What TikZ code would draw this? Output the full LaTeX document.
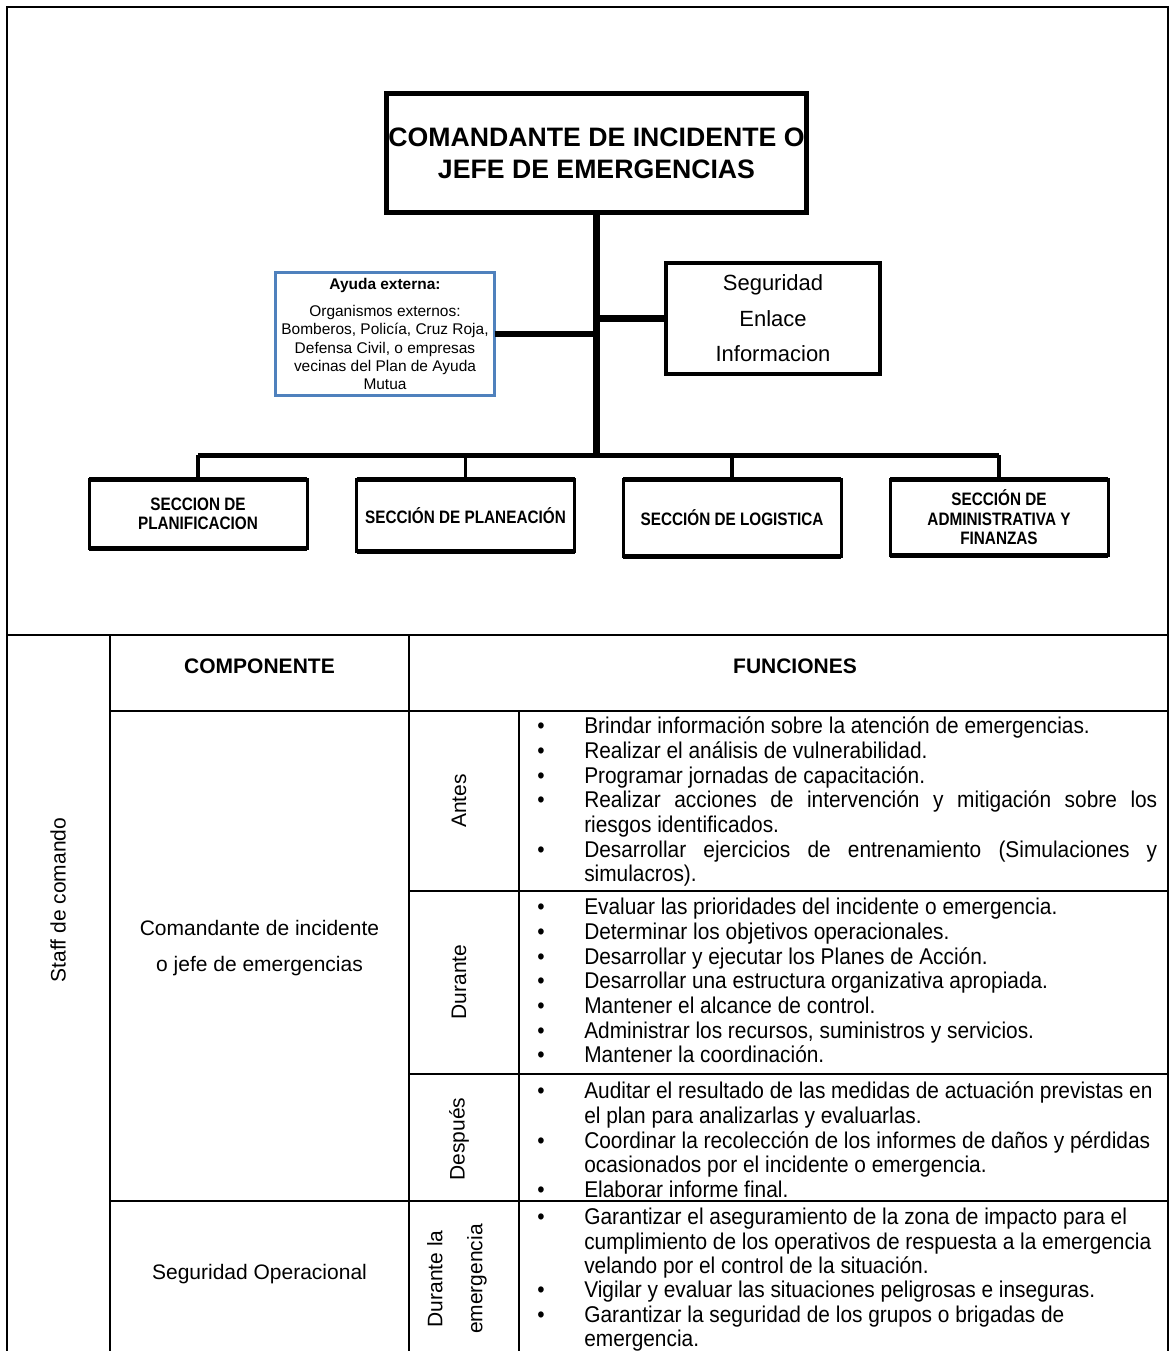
\documentclass[tikz,border=0pt]{standalone}
\usepackage{fontspec}
\setmainfont{Liberation Sans}
\newfontfamily\narrowfont[FakeStretch=0.85]{Liberation Sans}
\newfontfamily\funcfont[FakeStretch=0.915]{Liberation Sans}
\usetikzlibrary{positioning}
\definecolor{ayudablue}{HTML}{4F81BD}
\newenvironment{funclist}{%
  \spaceskip=0pt\xspaceskip=0pt
  \begin{list}{\textbullet}{%
    \setlength\leftmargin{35.25pt}\setlength\labelwidth{35.25pt}%
    \setlength\labelsep{0pt}\setlength\itemsep{0pt}\setlength\parsep{0pt}%
    \setlength\topsep{0pt}\setlength\partopsep{0pt}%
    \renewcommand\makelabel[1]{\strut##1\hfil}}}%
  {\end{list}}
\newcommand\just[1]{\makebox[429.75pt][s]{#1}}
\tikzset{
  orgbox/.style={draw, line width=3.75pt, inner sep=0pt, outer sep=0pt, align=center, font=\bfseries\fontsize{20}{24}\selectfont},
  sidebox/.style={draw, line width=3pt, inner sep=0pt, outer sep=0pt, align=center, font=\fontsize{16.5}{26.6}\selectfont},
  helpbox/.style={draw=ayudablue, line width=2.25pt, inner sep=0pt, outer sep=0pt, align=center, font=\fontsize{11.6}{13.7}\selectfont},
  secbox/.style={draw, line width=2.25pt, minimum width=163.5pt, inner sep=0pt, outer sep=0pt, align=center, font=\narrowfont\bfseries\fontsize{13.5}{14.6}\selectfont},
  trunk/.style={line width=5pt},
  bus/.style={line width=3.75pt},
  drop/.style={line width=2.6pt},
  frame/.style={line width=1.5pt},
  tabline/.style={line width=1.7pt},
  celltext/.style={inner sep=0pt, align=center, font=\fontsize{15.75}{27}\selectfont},
  functext/.style={anchor=north west, text width=485.25pt, inner sep=0pt, align=left, font=\funcfont\fontsize{17.1}{18.5}\selectfont}
}
\begin{document}
\begin{tikzpicture}[x=0.75pt, y=-0.75pt]
  \path[use as bounding box] (0,0) rectangle (1171,1351);

  \node[orgbox, minimum width=315pt, minimum height=89.25pt] (mando) at (596.5,153) {COMANDANTE DE INCIDENTE O\\JEFE DE EMERGENCIAS};
  \node[helpbox, minimum width=164.25pt, minimum height=92.25pt] (ayuda) at (385,334) {\textbf{Ayuda externa:}\\[6.75pt]Organismos externos:\\Bomberos, Policía, Cruz Roja,\\Defensa Civil, o empresas\\vecinas del Plan de Ayuda\\Mutua};
  \node[sidebox, minimum width=160.5pt, minimum height=83.25pt] (seg) at (773,318.5) {Seguridad\\Enlace\\Informacion};

  \node[secbox, minimum height=51.4pt] (secplan) at (198,514) {SECCION DE\\PLANIFICACION};
  \node[secbox, minimum height=53.6pt] (secplanea) at (465.5,515.5) {SECCIÓN DE PLANEACIÓN};
  \node[secbox, minimum height=57.4pt] (seclog) at (732,518) {SECCIÓN DE LOGISTICA};
  \node[secbox, minimum height=56.6pt] (secadmin) at (999,517.5) {SECCIÓN DE\\ADMINISTRATIVA Y\\FINANZAS};

  \coordinate (bus) at (597,455);
  \draw[trunk] (mando.south) -- (mando.south |- bus);
  \draw[trunk] (ayuda.east) -- (ayuda.east -| mando.south);
  \draw[trunk] (seg.west) -- (seg.west -| mando.south);
  \draw[bus] (secplan.north |- bus) -- (secadmin.north |- bus);
  \foreach \s in {secplan,secplanea,seclog,secadmin} {
    \draw[drop] (\s.north) -- (\s.north |- bus);
    \draw[line width=3.75pt] (\s.north west) -- (\s.north east);
    \draw[line width=3.75pt] (\s.south west) -- (\s.south east);
  }

  \draw[frame] (7,1351) -- (7,7) -- (1168,7) -- (1168,1351);
  \draw[tabline] (7,635) -- (1168,635);
  \draw[tabline] (110,635) -- (110,1351);
  \draw[tabline] (409,635) -- (409,1351);
  \draw[tabline] (110,711) -- (1168,711);
  \draw[tabline] (519,711) -- (519,1351);
  \foreach \y in {891,1074} \draw[tabline] (409,\y) -- (1168,\y);
  \draw[tabline] (110,1201) -- (1168,1201);

  \node[celltext, font=\bfseries\fontsize{15.75}{18}\selectfont] (hcomp) at (259.5,666) {COMPONENTE};
  \node[celltext, font=\bfseries\fontsize{15.75}{18}\selectfont] (hfunc) at (795,666) {FUNCIONES};
  \node[celltext, rotate=90] (staff) at (58,900) {Staff de comando};
  \node[celltext] (compjefe) at (259.5,948) {Comandante de incidente\\o jefe de emergencias};
  \node[celltext] (compseg) at (259.5,1274) {Seguridad Operacional};
  \node[celltext, rotate=90] (antes) at (459,801) {Antes};
  \node[celltext, rotate=90] (durante) at (459,982) {Durante};
  \node[celltext, rotate=90] (despues) at (459,1139) {Después};
  \node[celltext, rotate=90] (duremerg) at (457,1279) {Durante la\\[3pt]emergencia};

  \node[functext] (fantes) at (537,709) {\begin{funclist}
    \item Brindar información sobre la atención de emergencias.
    \item Realizar el análisis de vulnerabilidad.
    \item Programar jornadas de capacitación.
    \item \just{Realizar acciones de intervención y mitigación sobre los}\newline riesgos identificados.
    \item \just{Desarrollar ejercicios de entrenamiento (Simulaciones y}\newline simulacros).
  \end{funclist}};
  \node[functext] (fdurante) at (537,890) {\begin{funclist}
    \item Evaluar las prioridades del incidente o emergencia.
    \item Determinar los objetivos operacionales.
    \item Desarrollar y ejecutar los Planes de Acción.
    \item Desarrollar una estructura organizativa apropiada.
    \item Mantener el alcance de control.
    \item Administrar los recursos, suministros y servicios.
    \item Mantener la coordinación.
  \end{funclist}};
  \node[functext] (fdespues) at (537,1074) {\begin{funclist}
    \item Auditar el resultado de las medidas de actuación previstas en\newline el plan para analizarlas y evaluarlas.
    \item Coordinar la recolección de los informes de daños y pérdidas\newline ocasionados por el incidente o emergencia.
    \item Elaborar informe final.
  \end{funclist}};
  \node[functext, font=\funcfont\fontsize{17.1}{18.3}\selectfont] (fseg) at (537,1200) {\begin{funclist}
    \item Garantizar el aseguramiento de la zona de impacto para el\newline cumplimiento de los operativos de respuesta a la emergencia\newline velando por el control de la situación.
    \item Vigilar y evaluar las situaciones peligrosas e inseguras.
    \item Garantizar la seguridad de los grupos o brigadas de\newline emergencia.
  \end{funclist}};
\end{tikzpicture}
\end{document}
